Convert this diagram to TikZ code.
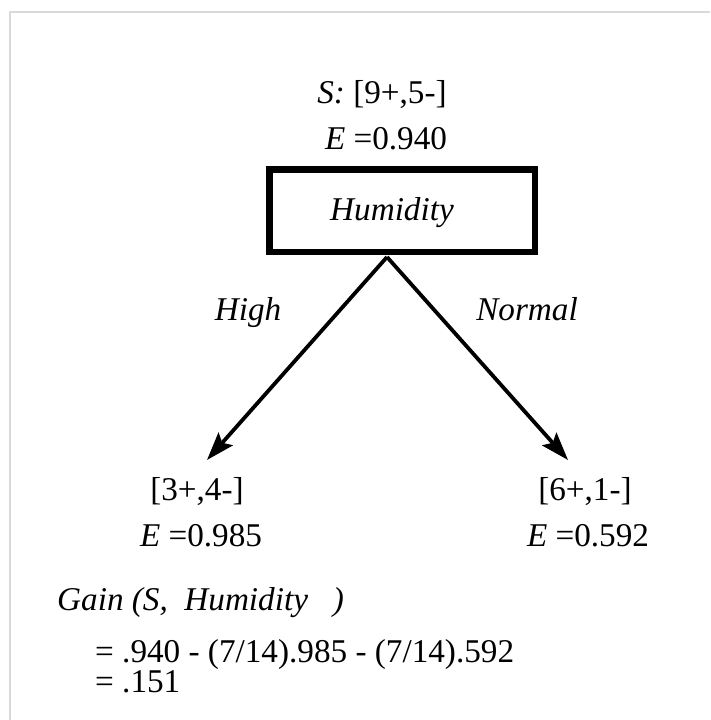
\documentclass[tikz,border=0pt]{standalone}
\usepackage{fontspec}
\setmainfont{Liberation Serif}
\usetikzlibrary{arrows.meta}
\begin{document}
\begin{tikzpicture}[x=1pt,y=-1pt,
  lbl/.style={anchor=base,inner sep=0pt,font=\fontsize{33.2}{40}\selectfont},
  lbll/.style={anchor=base west,inner sep=0pt,font=\fontsize{33.2}{40}\selectfont},
  boxst/.style={draw,line width=6.5pt,minimum width=265.5pt,minimum height=82.5pt,inner sep=0pt},
  edge/.style={line width=3.8pt,-{Stealth[length=28pt,width=19pt,inset=5pt]}},
  frame/.style={draw=black!15,line width=2.5pt}]
\useasboundingbox (0,0) rectangle (710,720);
\draw[frame] (10,720) -- (10,12) -- (710,12);
\node[lbl] (s) at (382,103) {\textit{S:} [9+,5-]};
\node[lbl] (e0) at (386,149) {\textit{E} =0.940};
\node[boxst] (hum) at (402,210.5) {};
\node[lbl] (humtxt) at (392,220) {\textit{Humidity}};
\coordinate (apex) at (387,257);
\coordinate (ltip) at (207,460);
\coordinate (rtip) at (568,460);
\draw[edge] (apex) -- (ltip);
\draw[edge] (apex) -- (rtip);
\node[lbl] (high) at (248,320) {\textit{High}};
\node[lbl] (normal) at (527,320) {\textit{Normal}};
\node[lbl] (l1) at (197,500) {[3+,4-]};
\node[lbl] (l2) at (201,546) {\textit{E} =0.985};
\node[lbl] (r1) at (585,500) {[6+,1-]};
\node[lbl] (r2) at (588,546) {\textit{E} =0.592};
\node[lbll] (gain) at (57,610) {\textit{Gain (S,\ \ Humidity\ \ \ )}};
\node[lbll] (g1) at (95,662) {= .940 - (7/14).985 - (7/14).592};
\node[lbll] (g2) at (95,692) {= .151};
\end{tikzpicture}
\end{document}
